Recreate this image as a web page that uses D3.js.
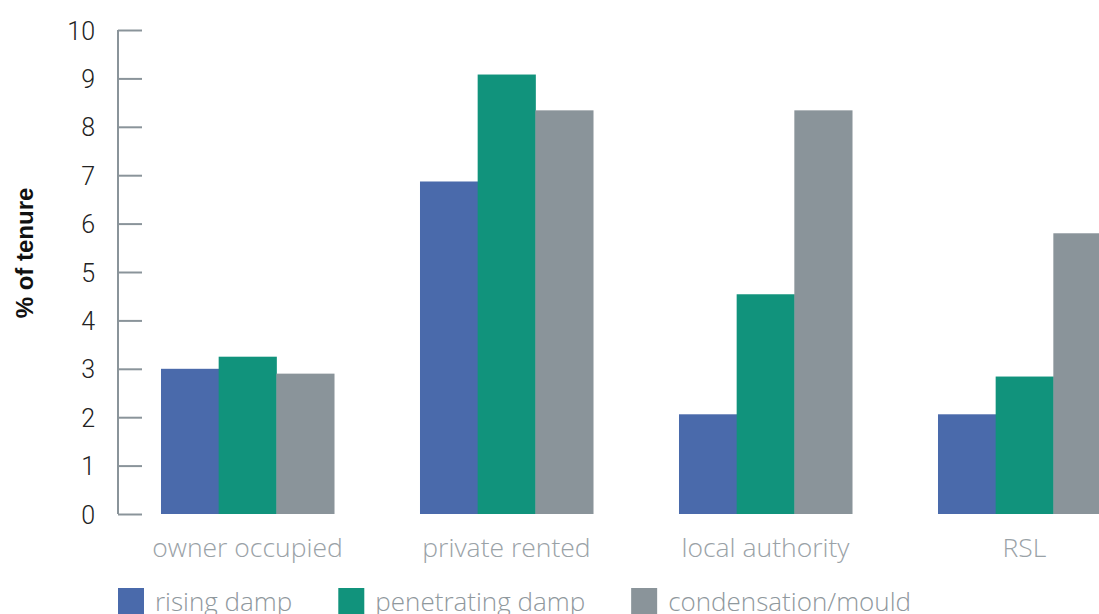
<!DOCTYPE html>
<html>
<head>
<meta charset="utf-8">
<script src="https://cdn.jsdelivr.net/npm/d3@7"></script>
<style>
  body { margin: 0; background: #fff; }
  text { font-family: Roboto, "Liberation Sans", sans-serif; }
</style>
</head>
<body>
<div id="chart"></div>
<script>
const categories = ["owner occupied", "private rented", "local authority", "RSL"];
const seriesNames = ["rising damp", "penetrating damp", "condensation/mould"];
const risingDamp = [3.0, 6.87, 2.06, 2.06];
const penetratingDamp = [3.25, 9.08, 4.54, 2.84];
const condensation = [2.9, 8.34, 8.34, 5.8];
const yTicks = [0, 1, 2, 3, 4, 5, 6, 7, 8, 9, 10];
const colors = ["#4a6aab", "#11937c", "#8a949a"];

const allSeries = [risingDamp, penetratingDamp, condensation];

const width = 1099;
const height = 614;
const margin = { top: 30, left: 118, bottom: 100 };

const svg = d3.select("#chart")
    .append("svg")
    .attr("width", width)
    .attr("height", height);

const y = d3.scaleLinear()
    .domain([0, 10])
    .range([height - margin.bottom, margin.top]);

// bands run past the right edge, as in the original
const x0 = d3.scaleBand()
    .domain(categories)
    .range([margin.left, margin.left + 4 * 259])
    .paddingInner(0.332)
    .paddingOuter(0.166);

const x1 = d3.scaleBand()
    .domain(seriesNames)
    .range([0, x0.bandwidth()]);

// y axis
const yAxis = svg.append("g")
    .attr("transform", `translate(${margin.left},0)`)
    .call(d3.axisRight(y).tickValues(yTicks).tickSize(24).tickFormat(d3.format("d")));
yAxis.select(".domain").attr("stroke", "#8a949a").attr("stroke-width", 2)
    .attr("d", `M0,${y(0)}V${y(10)}`);
yAxis.selectAll(".tick line").attr("stroke", "#8a949a").attr("stroke-width", 2);
yAxis.selectAll(".tick text")
    .attr("x", -23)
    .attr("dy", "0.36em")
    .attr("text-anchor", "end")
    .attr("fill", "#222")
    .style("font-size", "25px")
    .style("font-weight", 300);

svg.append("text")
    .attr("transform", `translate(33,${(y(0) + y(10)) / 2 - 19}) rotate(-90)`)
    .attr("text-anchor", "middle")
    .attr("fill", "#111")
    .style("font-family", "'Liberation Sans', Arial, sans-serif")
    .style("font-size", "24px")
    .style("font-weight", 700)
    .text("% of tenure");

// bars
const groups = svg.selectAll(".group")
    .data(categories)
    .enter()
    .append("g")
    .attr("class", "group")
    .attr("transform", d => `translate(${x0(d)},0)`);

groups.selectAll("rect")
    .data((d, i) => seriesNames.map((s, j) => ({ s, j, v: allSeries[j][i] })))
    .enter()
    .append("rect")
    .attr("x", d => x1(d.s))
    .attr("width", x1.bandwidth() + 0.5)
    .attr("y", d => y(d.v))
    .attr("height", d => y(0) - y(d.v))
    .attr("fill", d => colors[d.j]);

// category labels
svg.selectAll(".cat")
    .data(categories)
    .enter()
    .append("text")
    .attr("class", "cat")
    .attr("x", d => x0(d) + x0.bandwidth() / 2)
    .attr("y", 557)
    .attr("text-anchor", "middle")
    .attr("fill", "#9aa2a7")
    .style("font-family", "'Open Sans', Roboto, sans-serif")
    .style("font-size", "26.5px")
    .style("font-weight", 300)
    .text(d => d);

// legend
const legend = svg.append("g");
let lx = margin.left;
seriesNames.forEach((name, i) => {
    const item = legend.append("g").attr("transform", `translate(${lx},0)`);
    item.append("rect")
        .attr("x", 0).attr("y", 588)
        .attr("width", 26).attr("height", 26)
        .attr("fill", colors[i]);
    const t = item.append("text")
        .attr("x", 37).attr("y", 611)
        .attr("fill", "#8f989d")
        .style("font-family", "'Open Sans', Roboto, sans-serif")
        .style("font-size", "26px")
        .style("font-weight", 300)
        .text(name);
    lx += 37 + t.node().getComputedTextLength() + 46;
});
</script>
</body>
</html>
